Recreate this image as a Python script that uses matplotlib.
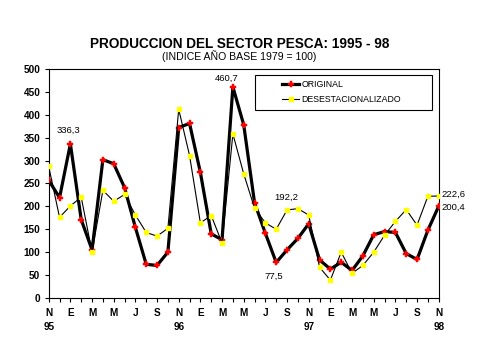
import matplotlib
matplotlib.use('agg')
from matplotlib import pyplot as plt
from matplotlib.patches import Rectangle

plt.rcParams['font.family'] = ['Liberation Sans', 'DejaVu Sans']

# monthly index, Nov 1995 .. Nov 1998
original = [257, 219, 336.3, 171, 105, 302, 293, 241, 154, 73.5, 71, 100,
            372, 381, 274, 140, 127, 460.7, 378, 208, 141, 77.5, 105, 130,
            162, 83, 63, 78, 60, 92, 138, 145, 143, 97, 84, 148, 200.4]
desest = [287, 176, 201, 220, 100, 235, 211, 226, 181, 143, 135, 152,
          412, 311, 164, 180, 120, 358, 271, 196, 164, 150, 192.2, 195,
          181, 67, 39, 100, 54, 71, 100, 137, 167, 193, 159, 222, 222.6]
tick_labels = ['N\n95', 'E', 'M', 'M', 'J', 'S',
               'N\n96', 'E', 'M', 'M', 'J', 'S',
               'N\n97', 'E', 'M', 'M', 'J', 'S', 'N\n98']
# (index, series, text, dx px, dy px, ha)
notes = [(2, original, '336,3', -2, 14, 'center'),
         (17, original, '460,7', -6, 9, 'center'),
         (22, desest, '192,2', -1, 13, 'center'),
         (21, original, '77,5', -2, -14, 'center'),
         (36, desest, '222,6', 3, 2, 'left'),
         (36, original, '200,4', 3, -1, 'left')]

x = list(range(len(original)))

fig = plt.figure(figsize=(4.79, 3.59), dpi=100)
ax = fig.add_axes([0.1017, 0.170, 0.8142, 0.638])

ax.plot(x, original, color='black', lw=2.3, marker='P', ms=3.8,
        mfc='red', mec='red', mew=0.3, label='ORIGINAL', zorder=3)
ax.plot(x, desest, color='black', lw=0.8, marker='s', ms=2.9,
        mfc='yellow', mec='yellow', label='DESESTACIONALIZADO', zorder=4)

ax.set_xlim(0, len(original) - 1)
ax.set_ylim(0, 500)
ax.set_yticks(range(0, 501, 50))
ax.set_xticks(x, minor=True)
ax.set_xticks(x[::2])
ax.set_xticklabels(tick_labels)
for lbl in ax.get_xticklabels():
    lbl.set_linespacing(1.5)
ax.tick_params(axis='both', which='both', direction='out', length=3,
               width=0.8, labelsize=7.2)
ax.tick_params(axis='x', pad=4.5)
ax.tick_params(axis='y', pad=3)
for lbl in ax.get_xticklabels() + ax.get_yticklabels():
    lbl.set_fontweight('bold')
for s in ax.spines.values():
    s.set_linewidth(0.8)

for i, ser, txt, dx, dy, ha in notes:
    ax.annotate(txt, xy=(i, ser[i]), xytext=(dx, dy), textcoords='offset pixels',
                ha=ha, va='center', fontsize=6.8, annotation_clip=False)

ax.add_patch(Rectangle((0.528, 0.821), 0.455, 0.153, transform=ax.transAxes,
                       fill=True, fc='white', ec='black', lw=0.8, zorder=5))
ax.legend(loc='upper left', bbox_to_anchor=(0.59, 0.965), frameon=False,
          fontsize=6.3, handlelength=1.9, handletextpad=0.25, labelspacing=0.6,
          borderaxespad=0).set_zorder(6)

fig.text(0.5, 0.878, 'PRODUCCION DEL SECTOR PESCA: 1995 - 98', ha='center',
         va='center', fontsize=9.8, fontweight='bold')
fig.text(0.5, 0.843, '(INDICE AÑO BASE 1979 = 100)', ha='center', va='center',
         fontsize=7.6)

fig.savefig('out.png', dpi=100)
